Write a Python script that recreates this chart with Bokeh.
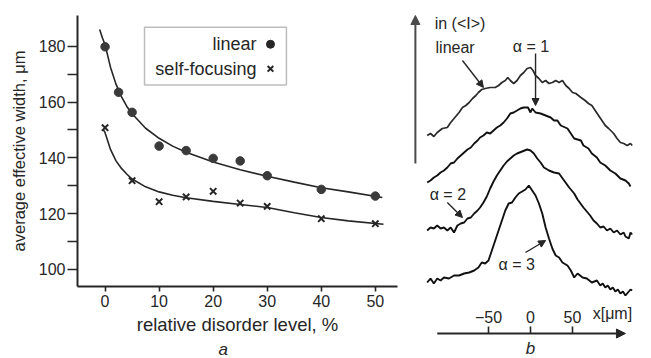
from bokeh.plotting import figure
from bokeh.layouts import row
from bokeh.models import (FixedTicker, BoxAnnotation, Label, Arrow, NormalHead,
                          LinearAxis, Range1d, Title)
from bokeh.core.properties import value
from bokeh.embed import file_html
from bokeh.resources import INLINE

FONT = "Liberation Sans"
INK = "#262626"

# ---------------- panel a data ----------------
disorder_lin = [0, 2.5, 5, 10, 15, 20, 25, 30, 40, 50]
width_lin = [179.8, 163.5, 156.3, 144.2, 142.6, 139.8, 138.9, 133.6, 128.7, 126.3]
disorder_sf = [0, 5, 10, 15, 20, 25, 30, 40, 50]
width_sf = [150.8, 131.8, 124.3, 126.0, 128.0, 123.8, 122.6, 118.2, 116.4]

fit_lin_x = [-1.0, -0.5, 0, 1, 2, 3, 4, 5, 7.5, 10, 12.5, 15, 20, 25, 30, 35, 40, 45, 51.3]
fit_lin_y = [186.0, 183.0, 180.5, 172.5, 166.5, 162.0, 158.5, 155.8, 150.6, 147.0, 144.2, 142.0,
             138.5, 135.7, 133.4, 131.3, 129.3, 127.8, 125.8]
fit_sf_x = [-0.3, 0, 0.5, 1, 2, 3, 4, 5, 7.5, 10, 12.5, 15, 20, 25, 30, 35, 40, 45, 51.5]
fit_sf_y = [150.0, 149.0, 146.0, 143.0, 139.0, 136.3, 134.2, 132.4, 129.6, 127.8, 126.6, 125.7,
            124.4, 123.3, 122.2, 120.3, 118.6, 117.4, 116.2]

x_ticks_a = [0, 10, 20, 30, 40, 50]
y_ticks_a = [100, 120, 140, 160, 180]
y_minor_a = [110, 130, 150, 170]

legend_labels = ["linear", "self-focusing"]

# ---------------- panel b data ----------------
prof_lin_x = [-123, -119, -115, -111, -105, -99, -95, -91, -85, -81, -77, -73, -69, -65, -62, -58,
              -54, -48, -42, -38, -34, -30, -27, -24, -20, -16, -12, -8, -4, 0, 3, 6, 10, 14, 18, 22,
              26, 30, 34, 38, 42, 46, 50, 54, 60, 65, 69, 73, 77, 81, 85, 89, 93, 99, 103, 107, 111,
              115, 119, 121]
prof_lin_y = [198, 200, 197, 201, 205, 206, 211, 215, 221, 226, 228, 231, 235, 238, 241, 244,
              245, 246, 246, 248, 251, 253, 256, 253, 250, 253, 258, 261, 265, 266, 263, 258, 255,
              251, 253, 250, 251, 253, 251, 253, 248, 245, 241, 240, 236, 233, 230, 228, 223, 218,
              213, 208, 205, 200, 195, 191, 190, 188, 190, 188]

prof_a1_x = [-123, -119, -115, -111, -107, -103, -99, -95, -91, -87, -83, -79, -75, -71, -67, -63,
             -60, -56, -52, -48, -44, -40, -36, -32, -28, -24, -20, -16, -12, -8, -3, 0, 2, 6, 12,
             18, 24, 28, 32, 36, 44, 48, 52, 60, 63, 69, 73, 79, 83, 89, 95, 101, 107, 113, 117, 119]
prof_a1_y = [151, 153, 156, 158, 161, 163, 166, 170, 171, 175, 178, 181, 184, 186, 190, 193,
             196, 198, 201, 200, 203, 206, 208, 211, 215, 220, 221, 223, 225, 226, 226, 221, 225,
             221, 220, 218, 216, 213, 213, 208, 205, 200, 195, 193, 188, 185, 180, 176, 171, 168,
             163, 160, 155, 153, 150, 147]

prof_a2_x = [-123, -119, -115, -111, -107, -103, -99, -95, -91, -87, -83, -79, -75, -71, -67, -63,
             -60, -56, -52, -48, -44, -40, -36, -32, -28, -24, -20, -16, -10, -4, 0, 4, 8, 12, 16,
             22, 28, 34, 40, 46, 52, 56, 63, 71, 75, 79, 83, 87, 91, 95, 99, 103, 107, 111, 113,
             117, 119, 121]
prof_a2_y = [103, 106, 105, 108, 105, 106, 103, 106, 101, 108, 110, 111, 115, 116, 120, 123,
             126, 131, 137, 145, 152, 158, 163, 168, 172, 175, 178, 180, 182, 184, 183, 180, 175,
             171, 166, 163, 161, 160, 153, 146, 140, 134, 126, 118, 113, 110, 106, 107, 103, 105,
             101, 103, 99, 101, 97, 95, 101, 99]

prof_a3_x = [-123, -119, -115, -111, -107, -103, -97, -91, -85, -79, -73, -67, -62, -58, -54, -50,
             -46, -42, -38, -34, -30, -26, -22, -18, -14, -10, -6, -2, 2, 6, 10, 14, 18, 22, 26, 30,
             34, 38, 44, 48, 52, 56, 62, 67, 73, 79, 83, 86, 89, 92, 95, 98, 101, 104, 107, 110,
             113, 116, 119, 121]
prof_a3_y = [51, 55, 50, 55, 53, 56, 55, 58, 58, 60, 61, 63, 66, 71, 70, 73, 83, 93, 103, 113,
             123, 130, 131, 136, 140, 142, 144, 148, 143, 138, 130, 120, 106, 95, 85, 78, 76, 71,
             68, 63, 56, 60, 56, 55, 51, 53, 48, 50, 46, 48, 44, 46, 42, 44, 40, 42, 38, 41, 44,
             43]

x_ticks_b = [-50, 0, 50]
x_tick_labels_b = {-50: "\u221250", 0: "0", 50: "50"}

# ================= panel a =================
pa = figure(width=408, height=358, x_range=Range1d(-5.1, 54.1), y_range=Range1d(93.9, 191.0),
            output_backend="svg", toolbar_location=None, frame_align=False,
            min_border_left=77, min_border_right=11, min_border_top=15, min_border_bottom=71)
pa.grid.visible = False
pa.outline_line_color = None
pa.background_fill_color = "white"

for ax in (pa.xaxis[0], pa.yaxis[0]):
    ax.axis_line_color = INK
    ax.axis_line_width = 2
    ax.major_tick_line_color = INK
    ax.major_tick_line_width = 1.6
    ax.minor_tick_line_color = INK
    ax.minor_tick_line_width = 1.6
    ax.major_tick_in = 0
    ax.minor_tick_in = 0
    ax.major_label_text_font = FONT
    ax.major_label_text_font_size = "16px"
    ax.major_label_text_color = INK
    ax.axis_label_text_font = FONT
    ax.axis_label_text_font_style = "normal"
    ax.axis_label_text_color = INK

pa.xaxis.ticker = FixedTicker(ticks=x_ticks_a, minor_ticks=[])
pa.xaxis.major_tick_out = 5
pa.xaxis.major_label_standoff = 3
pa.xaxis.axis_label = "relative disorder level, %"
pa.xaxis.axis_label_text_font_size = "18.5px"
pa.xaxis.axis_label_standoff = 4

pa.yaxis.ticker = FixedTicker(ticks=y_ticks_a, minor_ticks=y_minor_a)
pa.yaxis.major_tick_out = 10
pa.yaxis.minor_tick_out = 10
pa.yaxis.major_label_standoff = 2
pa.yaxis.axis_label = "average effective width, \u03bcm"
pa.yaxis.axis_label_text_font_size = "16.5px"
pa.yaxis.axis_label_standoff = 8

pa.line(fit_lin_x, fit_lin_y, line_color=INK, line_width=1.6)
pa.line(fit_sf_x, fit_sf_y, line_color=INK, line_width=1.6)
pa.scatter(disorder_lin, width_lin, marker="circle", size=8.5, fill_color="#3a3a3a",
           line_color="#3a3a3a")
pa.scatter(disorder_sf, width_sf, marker="x", size=9, line_color=INK, line_width=2)

# legend (text left, key right, as in the reference)
leg_box = BoxAnnotation(left=7.3, right=33.55, top=186.8, bottom=166.1, fill_color="white",
                        fill_alpha=1.0, line_color=INK, line_width=1.5, level="underlay")
pa.add_layout(leg_box)
leg_y = [180.7, 171.9]
for lbl, yy in zip(legend_labels, leg_y):
    pa.add_layout(Label(x=28.0, y=yy, text=lbl, text_align="right", text_baseline="middle",
                        text_font=FONT, text_font_size="18px", text_color=INK))
pa.scatter([30.6], [leg_y[0]], marker="circle", size=8, fill_color=INK, line_color=INK)
pa.scatter([30.6], [leg_y[1]], marker="x", size=8, line_color=INK, line_width=2)

pa.add_layout(Title(text="a", align="left", offset=141, standoff=0, text_font=FONT,
                    text_font_size="17px", text_font_style="italic", text_color=INK),
              "below")

# ================= panel b =================
pb = figure(width=243, height=358, x_range=Range1d(-145.2, 144.0), y_range=Range1d(-25, 333),
            output_backend="svg", toolbar_location=None, x_axis_type=None, y_axis_type=None,
            frame_align=False,
            min_border_left=0, min_border_right=0, min_border_top=0, min_border_bottom=0)
pb.grid.visible = False
pb.outline_line_color = None

xb = LinearAxis(ticker=FixedTicker(ticks=x_ticks_b, minor_ticks=[]), fixed_location=0,
                axis_line_color=None, major_tick_in=0, major_tick_out=7,
                major_tick_line_color=INK, major_tick_line_width=1.6,
                major_label_overrides=x_tick_labels_b, major_label_standoff=4,
                major_label_text_font=FONT, major_label_text_font_size="16px",
                major_label_text_color=INK)
pb.add_layout(xb, "above")

pb.add_layout(Arrow(x_start=-111, y_start=0, x_end=113, y_end=0, line_color=INK, line_width=1.8,
                    end=NormalHead(size=9, fill_color=INK, line_color=INK)))
pb.add_layout(Arrow(x_start=-137, y_start=170, x_end=-137, y_end=318, line_color="#4a4a4a",
                    line_width=2, end=NormalHead(size=9, fill_color="#4a4a4a",
                                                 line_color="#4a4a4a")))

pb.line(prof_lin_x, prof_lin_y, line_color="#2a2a2a", line_width=1.7)
pb.line(prof_a1_x, prof_a1_y, line_color="#111111", line_width=1.9)
pb.line(prof_a2_x, prof_a2_y, line_color="#111111", line_width=1.9)
pb.line(prof_a3_x, prof_a3_y, line_color="#111111", line_width=1.9)

pb.text(x=[74], y=[20], text=["x[\u03bcm]"], text_align="left", text_baseline="middle",
        text_font=value(FONT), text_font_size="16px", text_color=INK)

label_x = [-114, -113, -21, -120, -38]
label_y = [310, 286, 287, 139, 69]
label_t = ["in (<I>)", "linear", "\u03b1 = 1", "\u03b1 = 2", "\u03b1 = 3"]
pb.text(x=label_x, y=label_y, text=label_t, text_align="left", text_baseline="middle",
        text_font=value(FONT), text_font_size="16px", text_color=INK)
pb.text(x=[0], y=[-15], text=["b"], text_align="center", text_baseline="middle",
        text_font=value(FONT), text_font_size="17px", text_font_style="italic", text_color=INK)

arrow_x0 = [-81, 6, -99, -6]
arrow_y0 = [273, 280, 131, 81]
arrow_x1 = [-56, 6, -81, 18]
arrow_y1 = [246, 228, 116, 93]
for x0, y0, x1, y1 in zip(arrow_x0, arrow_y0, arrow_x1, arrow_y1):
    pb.add_layout(Arrow(x_start=x0, y_start=y0, x_end=x1, y_end=y1, line_color=INK,
                        line_width=1.4, end=NormalHead(size=7, fill_color=INK, line_color=INK)))

layout = row(pa, pb)
open("out.html", "w").write(file_html(layout, INLINE))
